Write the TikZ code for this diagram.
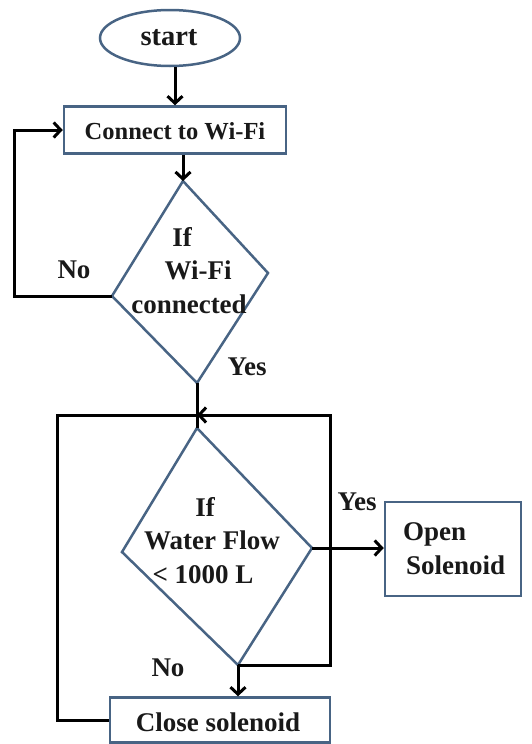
\documentclass[tikz,border=0pt]{standalone}
\usepackage{fontspec}
\setmainfont{Liberation Serif}
\usetikzlibrary{shapes.geometric,arrows.meta}
\definecolor{boxblue}{RGB}{72,100,132}
\tikzset{
  shapeline/.style={draw=boxblue, line width=2.5pt, fill=white},
  box/.style={shapeline, rectangle, inner sep=0pt},
  conn/.style={line width=3pt, black},
  arr/.style={conn, -{Straight Barb[length=7pt,width=15pt,line width=3pt]}},
  txt/.style={font=\fontsize{27}{29}\selectfont\bfseries, inner sep=0pt, text=black!90},
  txtS/.style={txt, font=\fontsize{24.5}{26}\selectfont\bfseries},
  txtL/.style={txt, font=\fontsize{28.5}{30}\selectfont\bfseries},
}
\begin{document}
\begin{tikzpicture}[x=1pt,y=-1pt]
\useasboundingbox (0,0) rectangle (531,744);
% nodes
\node[shapeline, ellipse, minimum width=140pt, minimum height=56pt, inner sep=0pt] (start) at (170,38) {};
\node[txtL] (starttxt) at (169,38) {start};
\node[box, minimum width=222pt, minimum height=47pt] (connect) at (175,130) {};
\node[txtS] (connecttxt) at (175,131) {Connect to Wi-Fi};
% diamond 1
\coordinate (d1t) at (183,181);
\coordinate (d1l) at (112,296);
\coordinate (d1r) at (268,273);
\coordinate (d1b) at (197,383);
\draw[shapeline] (d1t) -- (d1r) -- (d1b) -- (d1l) -- cycle;
\node[txt] (d1a) at (182,237) {If};
\node[txt] (d1c) at (198,270) {Wi-Fi};
\node[txt] (d1d) at (189,304) {connected};
% diamond 2
\coordinate (d2t) at (197,428);
\coordinate (d2l) at (122,552);
\coordinate (d2r) at (312,548);
\coordinate (d2b) at (238,665);
\draw[shapeline] (d2t) -- (d2r) -- (d2b) -- (d2l) -- cycle;
\node[txt] (d2a) at (205,507) {If};
\node[txt] (d2c) at (212,540) {Water Flow};
\node[txt] (d2d) at (203,575) {< 1000 L};
% boxes
\node[box, minimum width=136pt, minimum height=94pt] (open) at (453,549) {};
\node[txt, anchor=west] (opentxt1) at (403,534) {Open};
\node[txt, anchor=west] (opentxt2) at (406,565) {Solenoid};
\node[box, minimum width=220pt, minimum height=45pt] (close) at (220,720) {};
\node[txt] (closetxt) at (218,722) {Close solenoid};
% labels
\node[txt] (no1) at (74,270) {No};
\node[txt] (yes1) at (247,367) {Yes};
\node[txt] (yes2) at (357,502) {Yes};
\node[txt] (no2) at (168,668) {No};
% helper coordinates
\coordinate (lx) at (14,0);
\coordinate (lx2) at (57,0);
\coordinate (rx) at (330,0);
\coordinate (j) at (197,415);
% connectors
\draw[arr] (connect.north |- start.south) -- (connect.north);
\draw[arr] (d1t |- connect.south) -- (d1t);
\draw[arr] (d1l) -- (d1l -| lx) |- (connect.west);
\draw[conn] (d1b) -- (d2t);
\draw[arr] (d2b) -- (d2b -| rx) -- (rx |- j) -- (j);
\draw[conn] (close.west) -| (lx2 |- j) -- (j);
\draw[arr] (d2r) -- (open.west |- d2r);
\draw[arr] (d2b) -- (d2b |- close.north);
\end{tikzpicture}
\end{document}
